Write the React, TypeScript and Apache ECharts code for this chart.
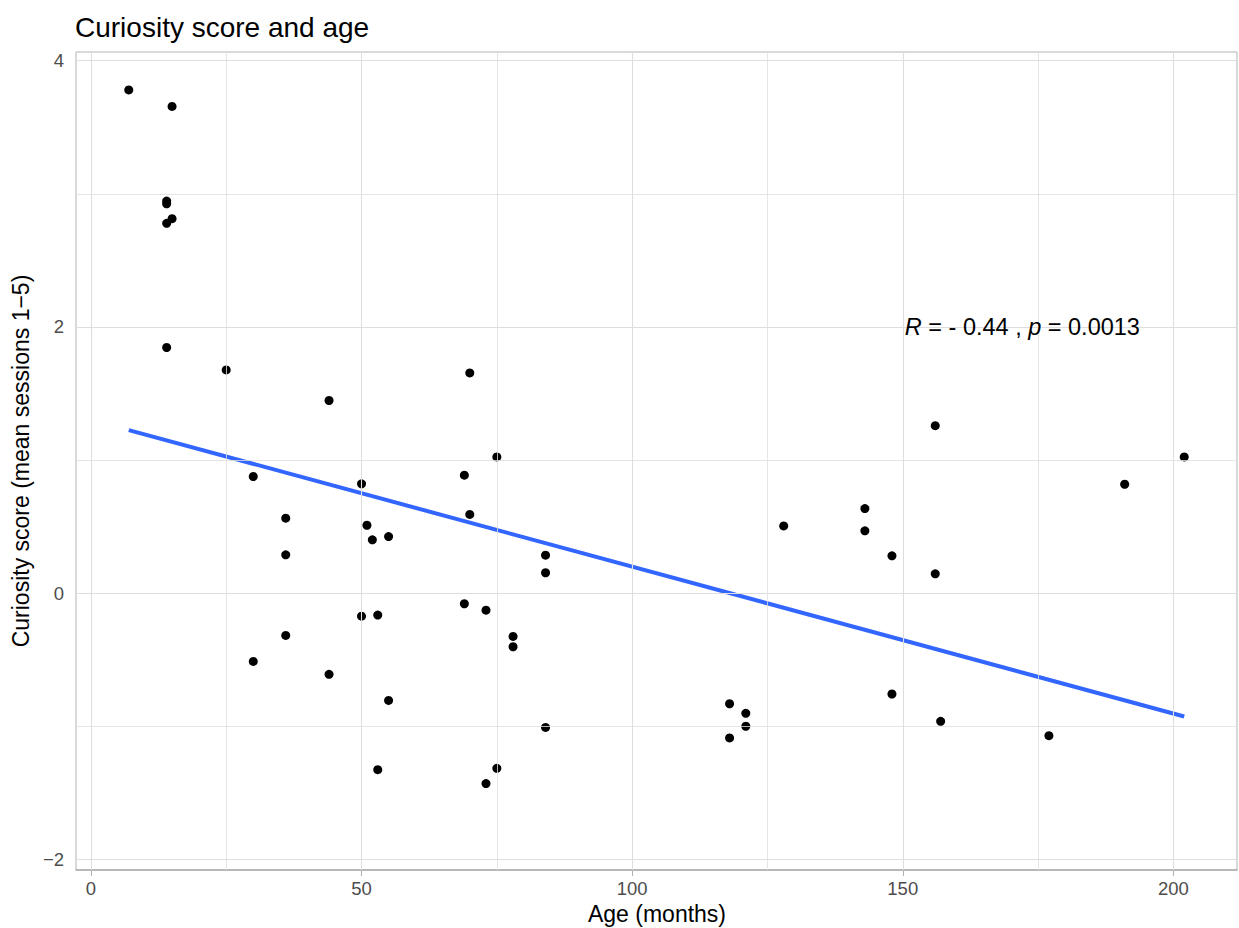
import React, { useEffect, useRef } from "react";
import * as echarts from "echarts";

// Age (months) and mean curiosity score per child
const ages = [
  7, 15, 14, 14, 15, 14, 14, 25, 44, 70, 75, 30, 50, 69, 70, 36, 51, 52, 55, 36,
  84, 84, 69, 73, 50, 53, 36, 78, 78, 30, 44, 55, 84, 53, 75, 73, 156, 202, 191,
  143, 128, 143, 148, 156, 148, 118, 121, 121, 118, 157, 177,
];
const scores = [
  3.78, 3.656, 2.945, 2.925, 2.813, 2.778, 1.845, 1.677, 1.447, 1.654, 1.023,
  0.876, 0.821, 0.886, 0.591, 0.563, 0.51, 0.4, 0.425, 0.288, 0.285, 0.153,
  -0.08, -0.128, -0.173, -0.165, -0.318, -0.325, -0.403, -0.513, -0.61, -0.806,
  -1.009, -1.326, -1.316, -1.431, 1.258, 1.023, 0.818, 0.635, 0.505, 0.468,
  0.28, 0.145, -0.758, -0.831, -0.903, -1.0, -1.088, -0.963, -1.071,
];

const xMajor = [0, 50, 100, 150, 200];
const xMinor = [25, 75, 125, 175];
const yMajor = [-2, 0, 2, 4];
const yMinor = [-1, 1, 3];

const xRange = [-2.75, 211.75];
const yRange = [-2.08, 4.065];

const corPosition = [150, 2];
const corR = "- 0.44";
const corP = "0.0013";

const FONT = "'Liberation Sans', Arial, Helvetica, sans-serif";

// Ordinary least-squares fit, evaluated at the ends of the age range
function linearFit(xs: number[], ys: number[]) {
  const n = xs.length;
  const mx = xs.reduce((a, b) => a + b, 0) / n;
  const my = ys.reduce((a, b) => a + b, 0) / n;
  let sxy = 0;
  let sxx = 0;
  for (let i = 0; i < n; i++) {
    sxy += (xs[i] - mx) * (ys[i] - my);
    sxx += (xs[i] - mx) * (xs[i] - mx);
  }
  const slope = sxy / sxx;
  const icpt = my - slope * mx;
  const x0 = Math.min(...xs);
  const x1 = Math.max(...xs);
  return [
    [x0, icpt + slope * x0],
    [x1, icpt + slope * x1],
  ];
}

const minusFmt = (v: number) => (v < 0 ? "\u2212" + Math.abs(v) : String(v));

export default function App() {
  const ref = useRef<HTMLDivElement>(null);

  useEffect(() => {
    if (!ref.current) return;
    const chart = echarts.init(ref.current, null, { renderer: "svg" });

    const points = ages.map((a, i) => [a, scores[i]]);
    const fitLine = linearFit(ages, scores);

    const gridLine = (w: number) => ({
      color: "#dedede",
      width: w,
      type: "solid" as const,
    });

    chart.setOption({
      animation: false,
      backgroundColor: "#ffffff",
      textStyle: { fontFamily: FONT },
      grid: {
        left: 76,
        right: 2,
        top: 52,
        bottom: 58,
        show: true,
        borderColor: "#b3b3b3",
        borderWidth: 1,
        backgroundColor: "transparent",
      },
      xAxis: {
        type: "value",
        min: xRange[0],
        max: xRange[1],
        splitLine: { show: false },
        axisLine: { show: true, onZero: false, lineStyle: { color: "#adadad", width: 1.6 } },
        axisTick: {
          show: true,
          customValues: xMajor,
          length: 6,
          lineStyle: { color: "#b3b3b3", width: 1.1 },
        },
        axisLabel: {
          customValues: xMajor,
          formatter: minusFmt,
          color: "#4d4d4d",
          fontSize: 18.5,
          fontFamily: FONT,
          margin: 9,
        },
      },
      yAxis: {
        type: "value",
        min: yRange[0],
        max: yRange[1],
        splitLine: { show: false },
        axisLine: { show: false },
        axisTick: {
          show: true,
          customValues: yMajor,
          length: 6,
          lineStyle: { color: "#b3b3b3", width: 1.1 },
        },
        axisLabel: {
          customValues: yMajor,
          formatter: minusFmt,
          color: "#4d4d4d",
          fontSize: 18.5,
          fontFamily: FONT,
          margin: 12,
        },
      },
      series: [
        {
          type: "scatter",
          data: [],
          silent: true,
          z: 1,
          markLine: {
            silent: true,
            symbol: ["none", "none"],
            label: { show: false },
            emphasis: { disabled: true },
            data: [
              ...xMinor.map((v) => ({ xAxis: v, lineStyle: gridLine(0.8) })),
              ...yMinor.map((v) => ({ yAxis: v, lineStyle: gridLine(0.8) })),
              ...xMajor.map((v) => ({ xAxis: v, lineStyle: gridLine(1.1) })),
              ...yMajor.map((v) => ({ yAxis: v, lineStyle: gridLine(1.1) })),
            ],
          },
        },
        {
          type: "scatter",
          data: points,
          symbol: "circle",
          symbolSize: 9,
          itemStyle: { color: "#000000", opacity: 1 },
          z: 3,
        },
        {
          type: "line",
          data: fitLine,
          showSymbol: false,
          symbol: "none",
          lineStyle: { color: "#3366FF", width: 4, opacity: 1 },
          z: 4,
        },
        {
          type: "scatter",
          data: [corPosition],
          symbolSize: 0,
          itemStyle: { opacity: 1 },
          z: 5,
          label: {
            show: true,
            position: "right",
            distance: 2,
            color: "#000",
            opacity: 1,
            formatter: `{i|R}{n| = ${corR} , }{i|p}{n| = ${corP}}`,
            rich: {
              i: { fontStyle: "italic", fontSize: 23.5, color: "#000", fontFamily: FONT },
              n: { fontSize: 23.5, color: "#000", fontFamily: FONT },
            },
          },
        },
      ],
      graphic: [
        {
          type: "text",
          left: 75,
          top: 13,
          style: {
            text: "Curiosity score and age",
            fontSize: 28,
            fontFamily: FONT,
            fill: "#000",
          },
        },
        {
          type: "text",
          x: 657,
          y: 914,
          style: {
            text: "Age (months)",
            fontSize: 23,
            fontFamily: FONT,
            fill: "#000",
            align: "center",
            verticalAlign: "middle",
          },
        },
        {
          type: "text",
          x: 21,
          y: 461,
          rotation: Math.PI / 2,
          style: {
            text: "Curiosity score (mean sessions 1\u22125)",
            fontSize: 23,
            fontFamily: FONT,
            fill: "#000",
            align: "center",
            verticalAlign: "middle",
          },
        },
      ],
    });

    return () => chart.dispose();
  }, []);

  return (
    <div
      ref={ref}
      style={{ position: "absolute", left: 0, top: 0, width: 1239, height: 928 }}
    />
  );
}
